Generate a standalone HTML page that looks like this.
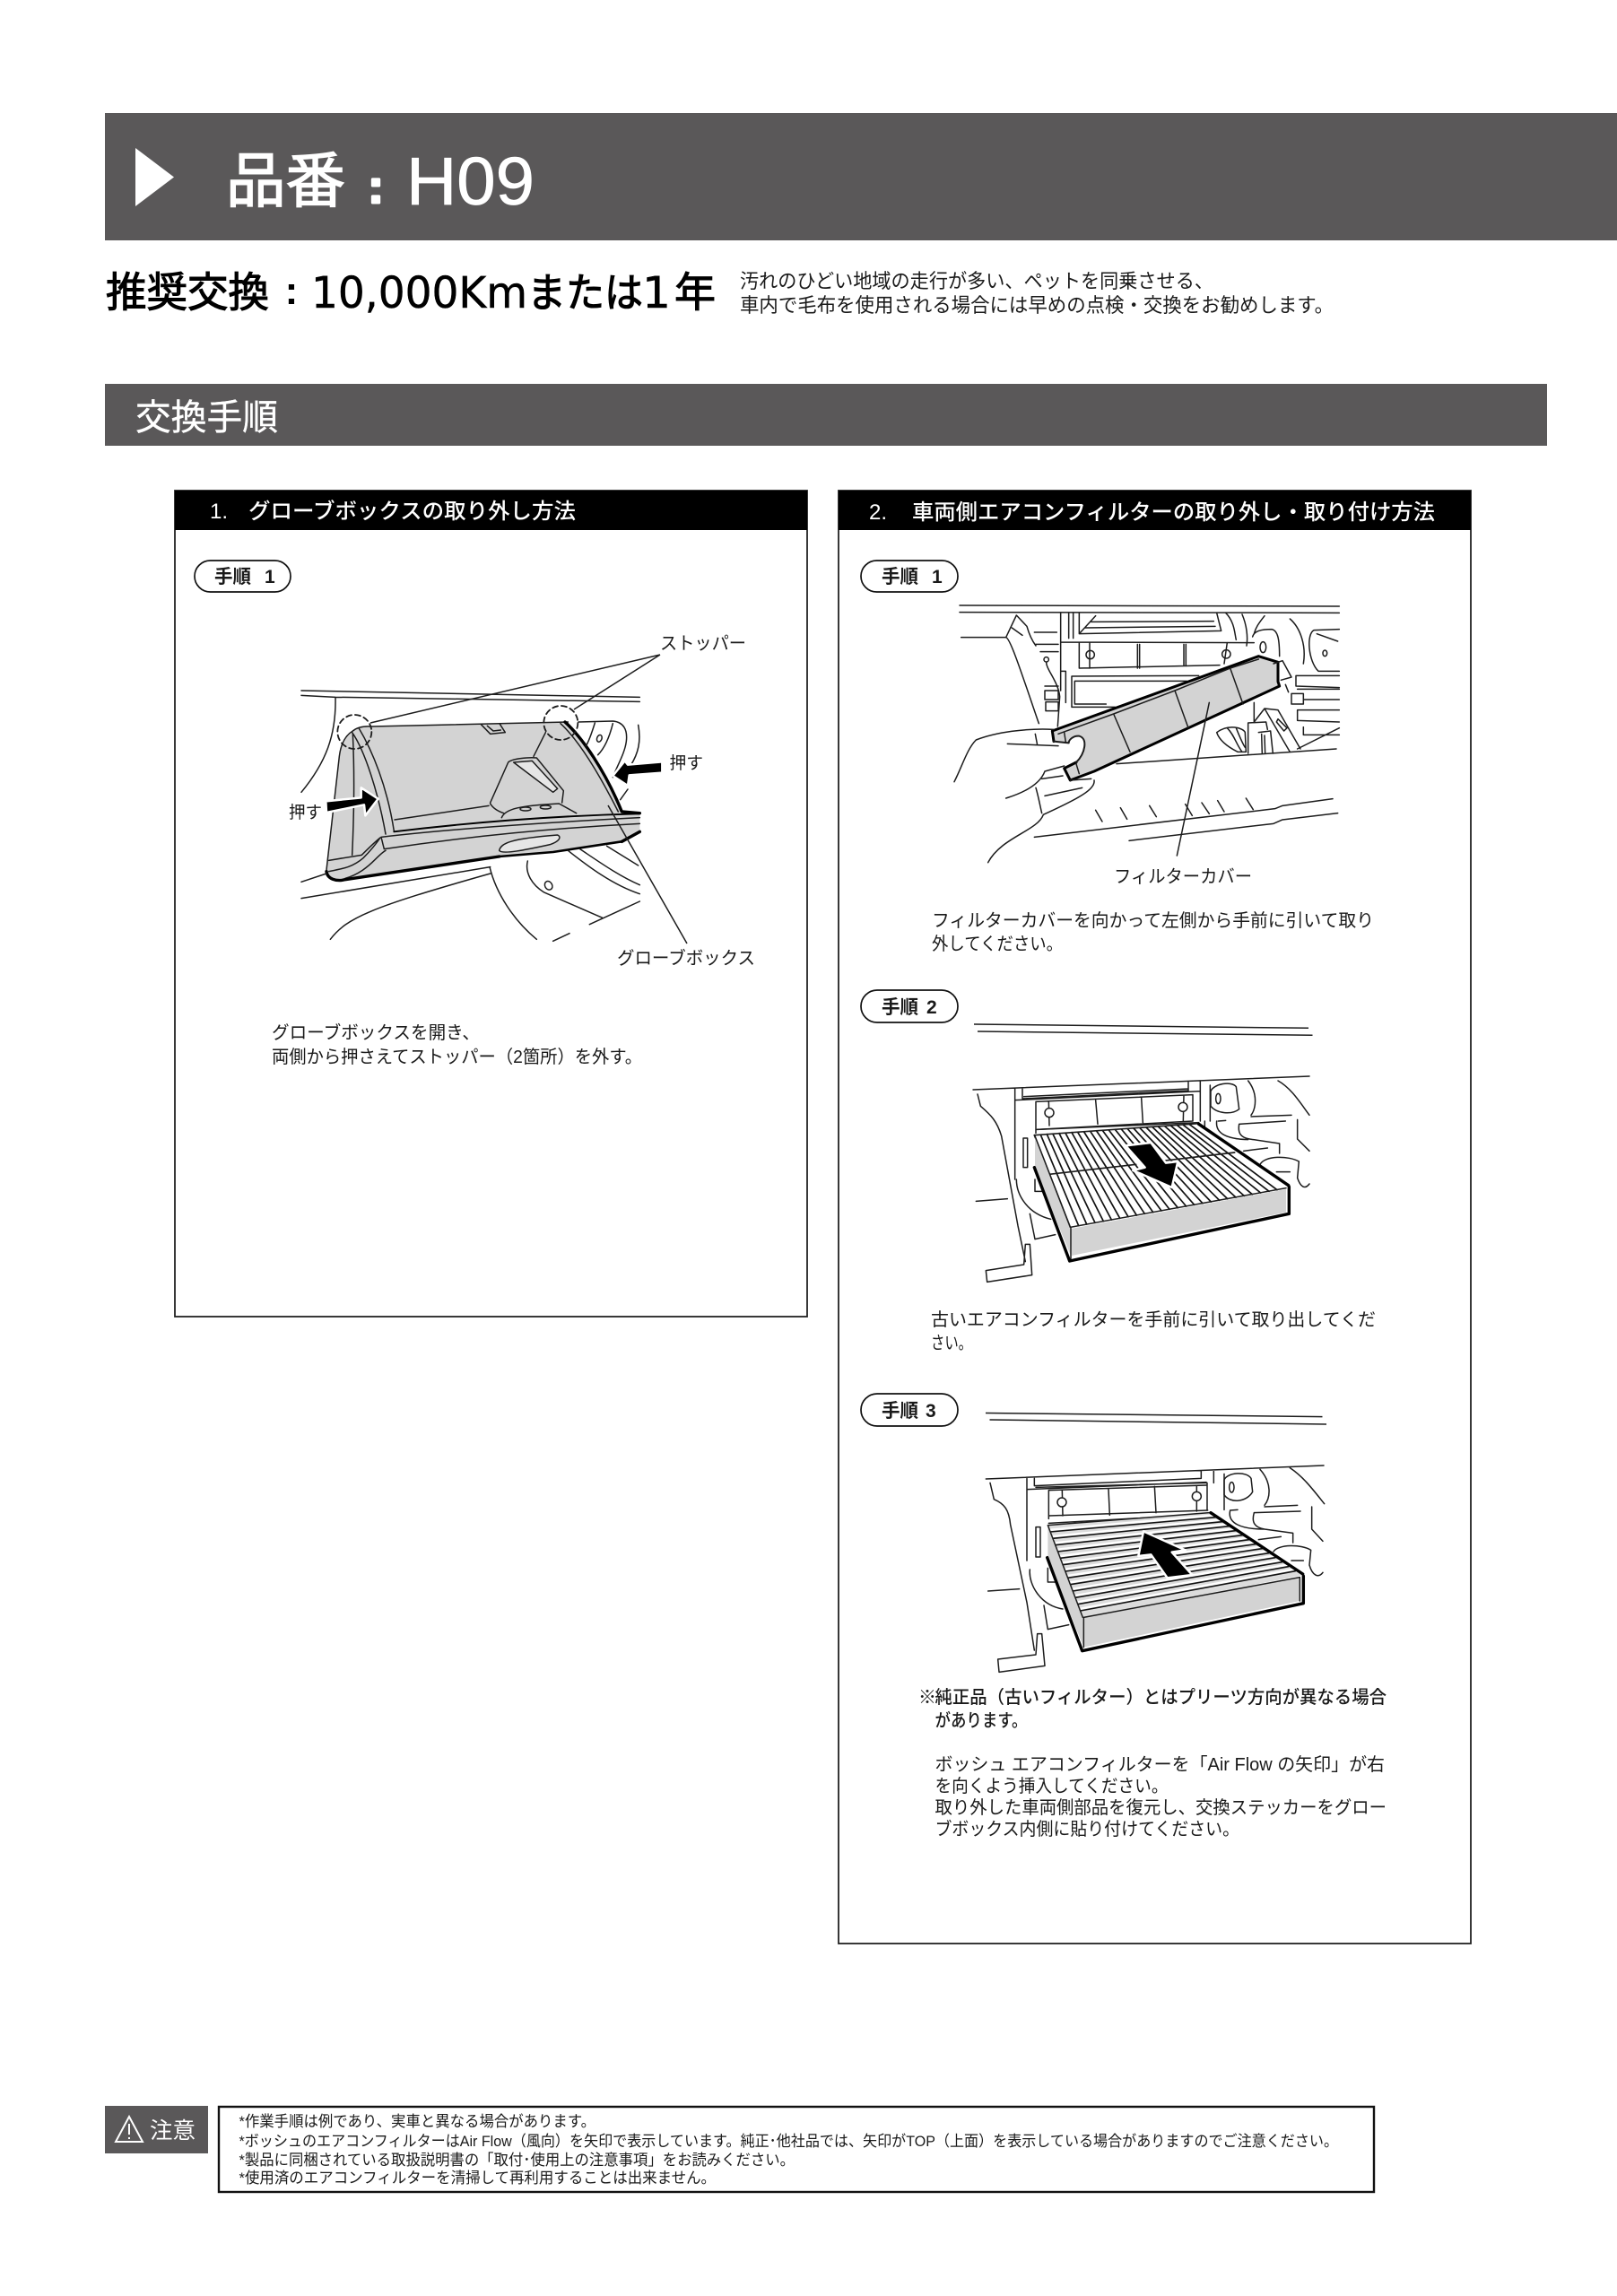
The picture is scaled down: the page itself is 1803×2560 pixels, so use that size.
<!DOCTYPE html>
<html lang="ja"><head><meta charset="utf-8"><title>品番：H09</title>
<style>
html,body{margin:0;padding:0;background:#fff}
svg{display:block}
text{font-family:"Liberation Sans","Noto Sans CJK JP",sans-serif;fill:#1a1a1a}
.w{fill:#fff}
.m{font-weight:500}
.b{font-weight:700}
.dj{font-family:"DejaVu Sans",sans-serif}
.d{fill:none;stroke:#1c1c1c;stroke-width:1.5;stroke-linejoin:round;stroke-linecap:round}
.d *{vector-effect:non-scaling-stroke}
.d .g{fill:#d3d3d3;stroke:none}
.d .k{stroke:#000;stroke-width:3.4}
.d .h{stroke:#000;stroke-width:2.6}
.d .wf{fill:#fff}
.d .l{fill:#e6e6e6}
.d .ar{fill:#000;stroke:#fff;stroke-width:2.5}
</style></head><body>
<svg xmlns="http://www.w3.org/2000/svg" width="1803" height="2560" viewBox="0 0 1803 2560">
<rect width="1803" height="2560" fill="#fff"/>

<!-- Title -->
<rect x="117" y="126" width="1686" height="142" fill="#5a5859"/>
<path d="M151,165 L194,197.5 L151,230 Z" fill="#fff"/>
<text class="w" x="252" y="225" font-size="67" textLength="133" lengthAdjust="spacingAndGlyphs" stroke="#fff" stroke-width="1.4">品番</text>
<text class="w b" x="419" y="226" font-size="52" text-anchor="middle" stroke="#fff" stroke-width="3" stroke-linejoin="round">:</text>
<text class="w" x="453" y="228" font-size="75" textLength="143" lengthAdjust="spacingAndGlyphs" stroke="#fff" stroke-width="0.7">H09</text>

<!-- Recommendation -->
<text x="118" y="342" font-size="46" textLength="182" lengthAdjust="spacingAndGlyphs" stroke="#000" stroke-width="1.1" style="fill:#000">推奨交換</text>
<text class="b" x="325" y="339" font-size="44" text-anchor="middle" style="fill:#000">:</text>
<text class="dj" x="347" y="343" font-size="48" textLength="241" lengthAdjust="spacingAndGlyphs" stroke="#000" stroke-width="0.5" style="fill:#000">10,000Km</text>
<text x="588" y="342" font-size="45" textLength="129" lengthAdjust="spacingAndGlyphs" stroke="#000" stroke-width="1.1" style="fill:#000">または</text>
<text class="dj" x="716" y="343" font-size="48" textLength="32" lengthAdjust="spacingAndGlyphs" stroke="#000" stroke-width="0.5" style="fill:#000">1</text>
<text x="752" y="342" font-size="46" textLength="46" lengthAdjust="spacingAndGlyphs" stroke="#000" stroke-width="1.1" style="fill:#000">年</text>
<text x="825" y="321" font-size="22" textLength="528" lengthAdjust="spacingAndGlyphs">汚れのひどい地域の走行が多い、ペットを同乗させる、</text>
<text x="825" y="348" font-size="22" textLength="662" lengthAdjust="spacingAndGlyphs">車内で毛布を使用される場合には早めの点検・交換をお勧めします。</text>

<!-- Section bar -->
<rect x="117" y="428" width="1608" height="69" fill="#5a5859"/>
<text class="w" x="151" y="479" font-size="40" textLength="159" lengthAdjust="spacingAndGlyphs" stroke="#fff" stroke-width="0.4">交換手順</text>

<!-- Panels -->
<rect x="195" y="547" width="705" height="921" fill="#fff" stroke="#222" stroke-width="1.8"/>
<rect x="195" y="547" width="705" height="44" fill="#000"/>
<text class="w m" x="234" y="578" font-size="24">1.</text>
<text class="w m" x="277" y="578" font-size="24" textLength="365" lengthAdjust="spacingAndGlyphs">グローブボックスの取り外し方法</text>

<rect x="935" y="547" width="705" height="1620" fill="#fff" stroke="#222" stroke-width="1.8"/>
<rect x="935" y="547" width="705" height="44" fill="#000"/>
<text class="w m" x="969" y="579" font-size="24">2.</text>
<text class="w m" x="1017" y="579" font-size="24" textLength="583" lengthAdjust="spacingAndGlyphs">車両側エアコンフィルターの取り外し・取り付け方法</text>

<!-- Pills -->
<rect x="217" y="625" width="107" height="35" rx="17.5" fill="#fff" stroke="#111" stroke-width="1.7"/>
<text class="b" x="239" y="650" font-size="21" textLength="41" lengthAdjust="spacingAndGlyphs">手順</text>
<text class="b" x="295" y="650" font-size="21">1</text>

<rect x="960" y="625" width="108" height="35" rx="17.5" fill="#fff" stroke="#111" stroke-width="1.7"/>
<text class="b" x="983" y="650" font-size="21" textLength="41" lengthAdjust="spacingAndGlyphs">手順</text>
<text class="b" x="1039" y="650" font-size="21">1</text>

<rect x="960" y="1104" width="108" height="36" rx="18" fill="#fff" stroke="#111" stroke-width="1.7"/>
<text class="b" x="983" y="1130" font-size="21" textLength="41" lengthAdjust="spacingAndGlyphs">手順</text>
<text class="b" x="1033" y="1130" font-size="21">2</text>

<rect x="960" y="1554" width="108" height="36" rx="18" fill="#fff" stroke="#111" stroke-width="1.7"/>
<text class="b" x="983" y="1580" font-size="21" textLength="41" lengthAdjust="spacingAndGlyphs">手順</text>
<text class="b" x="1032" y="1580" font-size="21">3</text>

<!-- Drawing 1 -->
<g class="d" transform="translate(350,770) scale(.33333)">
<path class="g" d="M130,135 C105,150 90,180 85,220 C70,350 55,480 42,600 C45,625 70,635 100,632 L160,628 L620,555 L800,540 L1030,505 L1090,470 L1090,410 L1030,408 C1000,330 940,220 850,105 L195,120 C170,118 145,122 130,135 Z"/>
<path d="M-42,0 L1090,22 M-42,16 L72,22 L1090,37 M72,22 C75,150 40,240 -42,340"/>
<path d="M130,135 C105,150 90,180 85,220 C70,350 55,480 42,600 M195,120 L850,105 M130,135 C145,122 170,118 195,120"/>
<path d="M150,125 C195,200 245,320 268,470 M128,140 C170,200 215,340 240,480 M130,145 C135,250 135,400 128,550"/>
<path d="M270,432 L585,385 M590,375 L650,240 C660,228 720,222 745,225 L835,335 L830,375 M735,220 L775,140 M590,378 C600,395 620,405 635,410"/>
<path class="l" d="M668,240 L730,235 L815,328 L800,340 Z"/>
<path d="M628,425 C640,395 690,385 820,378 L878,410"/>
<ellipse cx="708" cy="396" rx="18" ry="6"/><ellipse cx="775" cy="390" rx="18" ry="6"/>
<path class="h" style="stroke-width:1.9" d="M268,472 C450,450 750,420 1090,412"/>
<path d="M225,490 C480,460 800,440 1090,425 M235,530 C500,490 800,460 1090,445 M222,492 C200,510 180,530 160,550 L50,568 M225,490 L235,530 M50,605 C100,595 130,590 165,560 C190,535 210,510 222,492 M105,628 C150,615 180,590 205,565 C220,550 230,540 240,535"/>
<path class="l" d="M620,535 C625,510 660,495 815,483 C830,490 820,505 790,515 C720,530 630,550 620,535 Z"/>
<path class="k" d="M42,605 C45,630 75,640 105,632 L620,555"/>
<path class="h" d="M620,555 L800,540 L1030,505"/>
<path class="k" d="M1030,505 L1090,472"/>
<path class="k" d="M840,105 C900,160 975,270 1030,405 L1090,410"/>
<path d="M825,110 C890,170 960,290 1018,405"/>
<path d="M885,105 L1000,102 C1035,105 1050,130 1045,170 C1040,210 1015,250 1000,290 M940,108 C930,140 920,170 910,185 M1000,110 C990,150 975,190 950,215 M1085,115 C1095,170 1085,210 1060,250 M1050,330 L1025,365"/>
<ellipse cx="955" cy="160" rx="8" ry="12" transform="rotate(20 955 160)"/>
<path d="M-42,640 L42,612 M-42,695 L590,590 M55,832 C110,760 190,725 590,612 M588,590 C610,680 670,770 745,832 M800,838 L855,812 M922,782 L1090,705 M715,570 C705,610 730,650 770,675 L965,760 M850,535 C920,590 1000,650 1090,680 M890,530 C950,570 1020,620 1090,650 M980,520 L1085,585"/>
<ellipse cx="785" cy="652" rx="12" ry="15" transform="rotate(-30 785 652)"/>
<path d="M558,112 L590,145 L640,140 L622,112 M580,118 L600,135 L625,132"/>
<circle cx="136" cy="138" r="57" stroke-dasharray="6 4" style="stroke-width:1.8"/>
<circle cx="826" cy="108" r="57" stroke-dasharray="6 4" style="stroke-width:1.8"/>
<path class="ar" d="M40,370 L158,358 L158,325 L215,362 L172,418 L168,382 L42,408 Z"/>
<path class="ar" d="M1165,238 L1050,248 L1040,235 L1000,285 L1050,318 L1055,283 L1165,275 Z"/>
</g>
<path d="M413,806 L736,730 M640,791 L736,730 M678,898 L766,1052" fill="none" stroke="#1c1c1c" stroke-width="1.5"/>
<text x="736" y="724" font-size="20" textLength="96" lengthAdjust="spacingAndGlyphs">ストッパー</text>
<text x="746.5" y="857" font-size="19" textLength="37.5" lengthAdjust="spacingAndGlyphs">押す</text>
<text x="322" y="912" font-size="19" textLength="37" lengthAdjust="spacingAndGlyphs">押す</text>
<text x="688" y="1075" font-size="20" textLength="154" lengthAdjust="spacingAndGlyphs">グローブボックス</text>
<text x="303" y="1158" font-size="20" textLength="232" lengthAdjust="spacingAndGlyphs">グローブボックスを開き、</text>
<text x="303" y="1185" font-size="20" textLength="413" lengthAdjust="spacingAndGlyphs">両側から押さえてストッパー（2箇所）を外す。</text>

<!-- Drawing 2-1 -->
<g class="d" transform="translate(1060,670) scale(.33333)">
<path d="M30,15 L1300,18 M30,38 L1300,40"/>
<path d="M35,122 L185,122 C200,125 240,250 295,410 M185,122 L220,48 L255,85 C262,110 270,130 285,150 M205,90 L240,115 M280,105 L355,105 M285,145 L360,145 M300,170 L360,170"/>
<path d="M320,205 C320,230 360,270 365,320 L358,420"/>
<circle cx="320" cy="196" r="8"/>
<path d="M315,285 L360,285 M315,300 L360,300 L360,330 L315,330 Z M318,338 L360,338 L360,368 L318,368 Z"/>
<path d="M368,40 L368,300 M368,235 L385,235 L385,340 M395,40 L395,125 M410,40 L410,125 M430,40 L430,110 L485,50 M430,110 L905,100 M890,40 L905,100 M450,90 L885,85 M470,70 L880,68 M920,40 C950,70 950,110 955,130 M370,138 L1015,140"/>
<path d="M430,140 L430,225 L900,215 M625,145 L625,225 M632,145 L632,225 M780,145 L780,218 M787,145 L787,218 M465,140 L465,225 M925,140 L915,210"/>
<circle cx="467" cy="180" r="14"/><circle cx="922" cy="178" r="14"/>
<path d="M405,252 L830,250 M405,252 L405,355 L550,355 M415,268 L790,268 M415,268 L415,345 L520,345"/>
<path d="M1010,120 C1015,100 1040,95 1075,95 C1095,100 1100,130 1100,185"/>
<ellipse cx="1045" cy="155" rx="10" ry="18"/>
<path d="M1050,50 C1030,75 1020,90 1015,110 M1135,60 C1170,90 1190,150 1180,210 M975,45 C990,80 995,120 990,150"/>
<path d="M1300,95 L1215,98 C1190,110 1195,200 1230,235 L1300,235 M1225,110 L1295,135"/>
<ellipse cx="1252" cy="175" rx="7" ry="10"/>
<path d="M1300,250 L1155,250 L1155,285 L1300,290 M1160,295 L1300,295 M1140,310 L1180,310 L1180,345 L1140,345 Z M1180,330 L1300,330 M1300,365 L1160,365 L1160,400 L1300,405 M1180,422 L1180,448 L1300,448 M1160,495 L1300,425 M1120,280 L1130,305"/>
<path d="M1050,360 L1015,405 M1050,360 L1095,365 L1170,495 M1050,360 L1135,505 M1095,395 L1125,425 L1115,435 L1090,405 Z M995,408 L1055,405 L1060,430 M995,408 L995,510 M1030,440 L1070,435 L1078,510 M1040,445 L1042,510 M1050,450 L1052,510 M1015,340 L1015,405"/>
<path d="M890,440 C930,410 980,425 985,440 L988,505 L960,505 C930,490 900,470 890,440 M925,425 C950,450 955,480 975,505 M955,425 C965,450 975,475 985,490"/>
<path d="M555,545 L1290,495"/>
<path class="g" d="M340,435 L1030,185 L1095,205 L1095,270 L1100,285 L480,570 L400,600 L380,560 L420,540 C450,510 460,460 430,452 C410,450 395,465 395,475 L345,470 Z"/>
<path class="k" style="stroke-width:3" d="M345,470 L340,435 L1030,185 L1095,205 L1095,270 L1100,285 L480,570 L400,600 L380,560 L420,540"/>
<path style="stroke-width:2" d="M420,540 C450,510 460,460 430,452 C410,450 395,465 395,475 L345,470"/>
<path d="M360,445 L545,378 L750,300 L935,225 L1030,195 M545,378 L600,505 M750,300 L795,425 M935,225 L978,345 M380,440 L385,472 M420,545 L430,578"/>
<path d="M1080,210 L1110,200 L1140,255 L1105,265"/>
<path d="M345,430 C250,425 150,440 85,465 C55,495 40,550 12,605 M190,478 L360,485 M283,445 L290,482 M185,660 C250,640 300,610 315,570 L380,552 M305,595 L375,585 M315,652 L440,625 M285,625 C295,660 300,690 305,710 M480,600 C485,630 430,660 310,715 C290,770 170,790 125,875 M400,600 L470,595"/>
<path d="M485,700 L507,738 M568,692 L590,730 M665,685 L688,722 M785,680 L808,718 M840,675 L865,712 M893,668 L915,705 M988,660 L1012,698 M280,790 L1085,695 L1110,685 L1278,662 M597,802 L1080,745 L1110,732 L1295,710"/>
<path d="M865,340 L757,852"/>
</g>
<text x="1242" y="984" font-size="20" textLength="154" lengthAdjust="spacingAndGlyphs">フィルターカバー</text>
<text x="1039" y="1033" font-size="20" textLength="493" lengthAdjust="spacingAndGlyphs">フィルターカバーを向かって左側から手前に引いて取り</text>
<text x="1039" y="1059" font-size="20" textLength="146" lengthAdjust="spacingAndGlyphs">外してください。</text>

<!-- Drawing 2-2 -->
<path d="M1086,1142 L1459,1146.3 M1090,1150 L1463.5,1154.3" stroke="#1c1c1c" stroke-width="1.5" fill="none"/>
<g class="d" transform="translate(1080,1200) scale(.33333)">
<path d="M15,45 L1140,0 M155,40 L155,345 M180,40 L180,75 L735,48 L735,18 M185,68 L735,42 M155,80 L775,50 M775,18 L775,150 M808,30 L808,150 M30,60 L40,100 C75,130 95,150 110,200 L165,500 L190,620"/>
<path d="M225,85 L750,62 L750,150 M225,85 L225,190 M228,178 L750,150 M425,80 L432,160 M578,72 L583,155 M268,85 L270,165 M720,65 L718,150"/>
<circle class="wf" cx="270" cy="122" r="15"/><circle class="wf" cx="717" cy="103" r="15"/>
<path d="M810,50 C820,25 880,15 895,35 L905,110 C880,130 830,125 810,100 Z"/>
<ellipse cx="835" cy="75" rx="8" ry="17"/>
<path d="M935,15 C970,60 960,110 945,130 M1035,15 C1080,40 1110,90 1140,130 M945,135 L1080,130 M905,160 L1060,150 M905,160 C900,190 910,205 940,210 L1040,225 L1040,258 M835,150 L860,148 M830,150 C825,190 860,210 935,212 M920,250 L1000,240 M1100,145 L1100,210 L1140,250 M975,295 C990,265 1070,265 1105,285 L1100,340 C1110,370 1125,380 1140,360 M1030,320 L1075,320 M790,150 L790,180"/>
<path d="M25,418 L130,410 M160,345 C160,400 200,460 275,478 M205,460 L222,545 L290,530 M222,345 L222,385 L245,385 M183,207 L197,207 L197,305 L183,305 Z M190,562 L205,562 L212,665 L62,688 L58,650 L185,630 Z"/>
<path class="wf" d="M220,197 L770,158 L1060,375 L340,505 Z" style="stroke:none"/>
<path d="M230,178 L770,155" />
<path d="M220,197 L340,505 M241,196 L368,500 M262,194 L395,495 M282,193 L423,490 M303,191 L451,485 M324,190 L478,480 M345,188 L506,475 M365,187 L534,470 M386,186 L562,465 M407,184 L589,460 M428,183 L617,455 M448,181 L645,450 M469,180 L672,445 M490,178 L700,440 M511,177 L728,435 M532,176 L755,430 M552,174 L783,425 M573,173 L811,420 M594,171 L839,415 M615,170 L866,410 M635,169 L894,405 M656,167 L922,400 M677,166 L949,395 M698,164 L977,390 M718,163 L1005,385 M739,161 L1032,380" style="stroke-width:1.7;stroke:#111"/>
<path d="M220,197 L770,158 M270,328 L560,295 M650,283 L890,255" style="stroke-width:1.7"/>
<path class="g" d="M342,510 L1062,378 L1062,455 L345,600 Z"/>
<path class="g" d="M222,200 L340,505 L342,600 L222,310 Z"/>
<path d="M340,505 L1062,374 M342,505 L342,610 M222,200 L340,505"/>
<path class="k" d="M220,305 L338,618 L1072,460 L1072,370 M770,160 L1070,365"/>
<path class="ar" d="M525,232 L610,222 L660,290 L700,285 L680,372 L550,315 L590,305 Z"/>
</g>
<text x="1038" y="1478" font-size="20" textLength="496" lengthAdjust="spacingAndGlyphs">古いエアコンフィルターを手前に引いて取り出してくだ</text>
<text x="1038" y="1504" font-size="20" textLength="46" lengthAdjust="spacingAndGlyphs">さい。</text>

<!-- Drawing 2-3 -->
<path d="M1099,1575.5 L1474.5,1579.6 M1103.5,1583 L1479,1588" stroke="#1c1c1c" stroke-width="1.5" fill="none"/>
<g class="d" transform="translate(1090,1620) scale(.33333)">
<path d="M28,87 L1158,42 M165,85 L165,360 M190,85 L190,110 L748,85 L748,60 M195,115 L765,100 M168,122 L765,98 M790,60 L790,100 M825,70 L825,190 M768,100 L768,190 M42,100 L55,155 C90,170 105,190 110,240 L165,500 L190,660"/>
<path d="M238,125 L765,108 M238,125 L238,220 M240,210 L770,192 M438,122 L442,208 M592,112 L597,200 M283,125 L285,210 M733,110 L733,195 M238,235 L775,205"/>
<circle class="wf" cx="282" cy="165" r="15"/><circle class="wf" cx="733" cy="145" r="15"/>
<path d="M825,90 C835,65 900,60 915,85 L920,130 C900,165 845,170 825,140 Z"/>
<ellipse cx="850" cy="115" rx="8" ry="17"/>
<path d="M945,55 C985,100 980,150 960,175 M1045,50 C1090,80 1120,120 1160,170 M960,180 L1070,175 M925,200 L1080,195 M925,200 C915,235 930,250 960,255 L1055,268 L1055,300 M845,192 L870,190 M845,192 C835,235 880,255 960,255 M940,290 L1015,280 M1118,180 L1118,255 L1155,295 M990,330 C1005,305 1085,305 1115,325 L1110,375 C1120,410 1140,420 1155,400 M1050,360 L1090,360"/>
<path d="M35,462 L140,455 M175,390 C170,440 210,510 285,522 M222,510 L235,590 L305,575 M235,385 L235,432 L260,432 M195,248 L210,248 L210,348 L195,348 Z M200,605 L215,605 L225,712 L72,733 L68,690 L195,675 Z"/>
<path d="M235,242 L775,200 L1085,410 L352,550 Z" style="fill:#dcdcdc;stroke:none"/>
<path d="M243,257 L797,208 M252,279 L819,223 M260,301 L841,238 M268,323 L863,253 M277,345 L886,268 M285,367 L908,283 M294,389 L930,298 M302,411 L952,313 M310,433 L974,328 M319,455 L996,343 M327,477 L1018,358 M335,499 L1040,373 M344,521 L1063,388" style="stroke:#fff;stroke-width:2.4;stroke-linecap:butt"/>
<path d="M243,264 L797,215 M252,286 L819,230 M260,308 L841,245 M268,330 L863,260 M277,352 L886,275 M285,374 L908,290 M294,396 L930,305 M302,418 L952,320 M310,440 L974,335 M319,462 L996,350 M327,484 L1018,365 M335,506 L1040,380 M344,528 L1063,395" style="stroke:#111;stroke-width:1.6"/>
<path class="g" d="M355,552 L1078,418 L1078,495 L355,650 Z"/>
<path class="g" d="M235,242 L352,550 L355,650 L235,355 Z"/>
<path d="M235,242 L775,200 M235,242 L352,550 M355,550 L1078,416 M355,550 L355,650 M1078,418 L1078,495"/>
<path class="k" d="M233,350 L350,662 L1090,503 L1090,412 M780,200 L1088,405"/>
<path class="ar" d="M718,408 L635,418 L580,340 L538,345 L555,262 L695,325 L650,332 Z"/>
</g>
<text x="1024" y="1899" font-size="20">※</text>
<text class="m" x="1042.5" y="1899" font-size="20" textLength="503.5" lengthAdjust="spacingAndGlyphs">純正品（古いフィルター）とはプリーツ方向が異なる場合</text>
<text class="m" x="1042.5" y="1925" font-size="20" textLength="103" lengthAdjust="spacingAndGlyphs">があります。</text>
<text x="1042.5" y="1974" font-size="20" textLength="501.5" lengthAdjust="spacingAndGlyphs">ボッシュ エアコンフィルターを「Air Flow の矢印」が右</text>
<text x="1042.5" y="1998" font-size="20" textLength="260" lengthAdjust="spacingAndGlyphs">を向くよう挿入してください。</text>
<text x="1042.5" y="2022" font-size="20" textLength="503.5" lengthAdjust="spacingAndGlyphs">取り外した車両側部品を復元し、交換ステッカーをグロー</text>
<text x="1042.5" y="2046" font-size="20" textLength="339.5" lengthAdjust="spacingAndGlyphs">ブボックス内側に貼り付けてください。</text>

<!-- Caution -->
<rect x="117" y="2348" width="115" height="53" fill="#5a5859"/>
<path d="M144,2360 L159,2388 L129,2388 Z" fill="none" stroke="#fff" stroke-width="2"/>
<path d="M144,2368 L144,2380 M144,2383 L144,2385" stroke="#fff" stroke-width="2"/>
<text class="w" x="167" y="2384" font-size="25" textLength="51" lengthAdjust="spacingAndGlyphs">注意</text>
<rect x="244" y="2349" width="1288" height="95" fill="#fff" stroke="#111" stroke-width="2.4"/>
<text x="266.5" y="2371" font-size="17" textLength="397.5" lengthAdjust="spacingAndGlyphs">*作業手順は例であり、実車と異なる場合があります。</text>
<text x="266.5" y="2393" font-size="17" textLength="1225.5" lengthAdjust="spacingAndGlyphs">*ボッシュのエアコンフィルターはAir Flow（風向）を矢印で表示しています。純正･他社品では、矢印がTOP（上面）を表示している場合がありますのでご注意ください。</text>
<text x="266.5" y="2414" font-size="17" textLength="619.5" lengthAdjust="spacingAndGlyphs">*製品に同梱されている取扱説明書の「取付･使用上の注意事項」をお読みください。</text>
<text x="266.5" y="2434" font-size="17" textLength="531.5" lengthAdjust="spacingAndGlyphs">*使用済のエアコンフィルターを清掃して再利用することは出来ません。</text>
</svg>
</body></html>
